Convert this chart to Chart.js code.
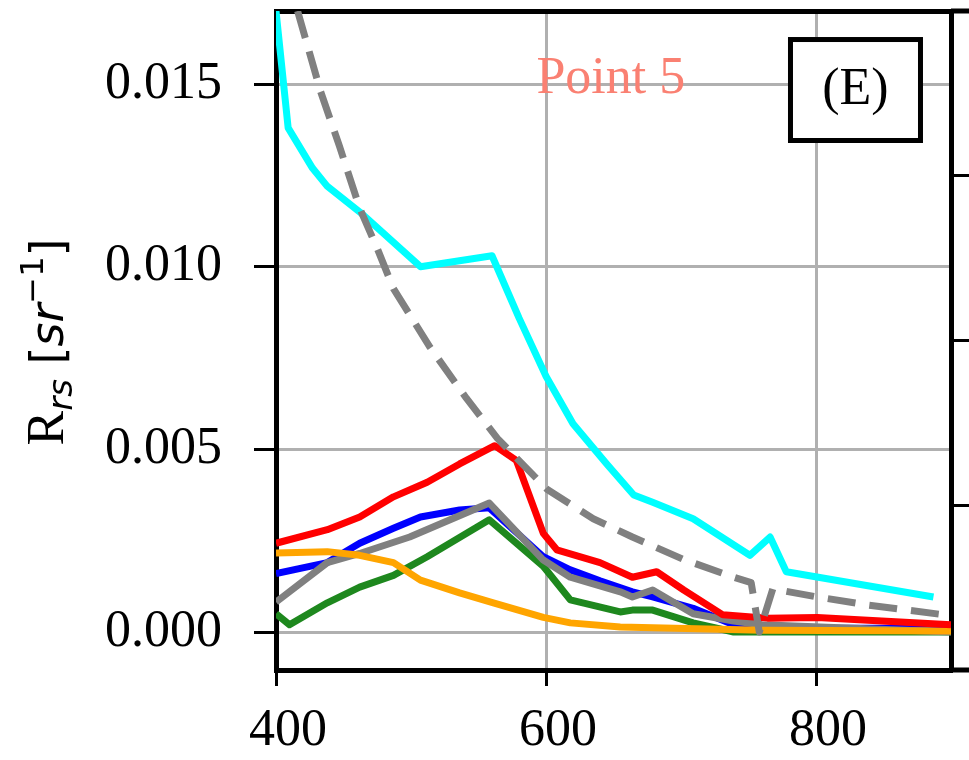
<!DOCTYPE html>
<html>
<head>
<meta charset="utf-8">
<script src="https://cdn.jsdelivr.net/npm/chart.js@4.4.1/dist/chart.umd.min.js"></script>
<style>
  html, body { margin: 0; padding: 0; background: #ffffff; }
  #wrap { width: 969px; height: 760px; }
</style>
</head>
<body>
<div id="wrap"><canvas id="rrsChart" width="969" height="760"></canvas></div>
<script>
// Rrs spectra at point 5 (wavelength in nm, Rrs in sr^-1)
const cyanWl  = [400, 409, 427, 438, 462, 507, 560, 580, 600, 620, 645, 665, 679, 709, 751, 766, 778, 887];
const cyanRrs = [0.0170, 0.0138, 0.0127, 0.0122, 0.0115, 0.0100, 0.0103, 0.0086, 0.0070, 0.0057, 0.0046, 0.00375, 0.00355, 0.0031, 0.0021, 0.0026, 0.00165, 0.00096];

const dashWl  = [416, 433, 447, 462, 475, 487, 514, 541, 564, 601, 635, 664, 701, 739, 752, 758, 768, 801, 838, 893];
const dashRrs = [0.0170, 0.0148, 0.0133, 0.0116, 0.0105, 0.0094, 0.0078, 0.0064, 0.0053, 0.0039, 0.0031, 0.0026, 0.0020, 0.0015, 0.00135, 0.0000, 0.00118, 0.00096, 0.00074, 0.00048];

const redWl  = [400, 438, 462, 487, 512, 536, 562, 578, 598, 608, 640, 664, 682, 702, 731, 764, 801, 900];
const redRrs = [0.00243, 0.0028, 0.00315, 0.0037, 0.0041, 0.0046, 0.0051, 0.0047, 0.0027, 0.00225, 0.0019, 0.0015, 0.00165, 0.00115, 0.00047, 0.00038, 0.0004, 0.0002];

const blueWl  = [400, 438, 462, 487, 507, 536, 558, 598, 618, 640, 664, 679, 709, 739, 760, 900];
const blueRrs = [0.0016, 0.0019, 0.00243, 0.00284, 0.00315, 0.00334, 0.0034, 0.00206, 0.0017, 0.0014, 0.0011, 0.00096, 0.00065, 0.0002, 0.0001, 0.0001];

const grayWl  = [400, 438, 462, 499, 558, 598, 618, 655, 664, 679, 709, 739, 760, 900];
const grayRrs = [0.00082, 0.0019, 0.00215, 0.0026, 0.00353, 0.00197, 0.0015, 0.0011, 0.00096, 0.00115, 0.0005, 0.0003, 0.0002, 0.0000];

const greenWl  = [400, 410, 438, 462, 487, 512, 558, 598, 618, 655, 664, 679, 709, 739, 900];
const greenRrs = [0.0005, 0.0002, 0.0008, 0.00123, 0.00155, 0.00206, 0.00307, 0.0018, 0.00088, 0.00055, 0.0006, 0.0006, 0.00025, 0.0, 0.0];

const orangeWl  = [400, 438, 462, 487, 507, 536, 561, 598, 618, 655, 760, 900];
const orangeRrs = [0.00216, 0.0022, 0.0021, 0.0019, 0.00142, 0.00107, 0.0008, 0.0004, 0.00025, 0.00014, 0.00005, 0.00003];

// axis ticks
const xTicks = [400, 600, 800];
const yTicks = [0.000, 0.005, 0.010, 0.015];

const serif = '"Liberation Serif", "Times New Roman", serif';
const mathFont = '"DejaVu Sans", sans-serif';

function toPoints(wl, vals) {
  return wl.map((w, i) => ({ x: w, y: vals[i] }));
}

function series(wl, vals, color, dashed) {
  return {
    data: toPoints(wl, vals),
    borderColor: color,
    borderWidth: 7,
    borderDash: dashed ? [28, 14] : [],
    borderJoinStyle: 'round',
    borderCapStyle: 'butt',
    pointRadius: 0,
    tension: 0,
    fill: false
  };
}

// fix the size of an axis box so the plot area lands where the figure has it
function fixBox(size) {
  return s => {
    if (s.isHorizontal()) s.height = size; else s.width = size;
    s.paddingTop = 0; s.paddingBottom = 0; s.paddingLeft = 0; s.paddingRight = 0;
  };
}

// y-axis title with subscript / superscript
const yTitlePlugin = {
  id: 'yTitle',
  afterDraw(chart) {
    const ctx = chart.ctx;
    const parts = [
      { t: 'R', font: '52px ' + serif, dy: 0 },
      { t: 'rs', font: 'italic 34px ' + mathFont, dy: 9 },
      { t: ' [', font: '46px ' + mathFont, dy: 0 },
      { t: 'sr', font: 'italic 46px ' + mathFont, dy: 0 },
      { t: '\u22121', font: '32px ' + mathFont, dy: -20 },
      { t: ']', font: '46px ' + mathFont, dy: 0 }
    ];
    ctx.save();
    let total = 0;
    parts.forEach(p => { ctx.font = p.font; p.w = ctx.measureText(p.t).width; total += p.w; });
    ctx.translate(63, 342);
    ctx.rotate(-Math.PI / 2);
    ctx.fillStyle = '#000';
    ctx.textBaseline = 'alphabetic';
    ctx.textAlign = 'left';
    let x = -total / 2;
    parts.forEach(p => {
      ctx.font = p.font;
      ctx.fillText(p.t, x, p.dy);
      x += p.w;
    });
    ctx.restore();
  }
};

// "Point 5" label, the (E) panel box and the spine stubs of the next panel
const annotPlugin = {
  id: 'annot',
  afterDraw(chart) {
    const ctx = chart.ctx;
    const a = chart.chartArea;
    const w = a.right - a.left, h = a.bottom - a.top;
    ctx.save();

    ctx.font = '52px ' + serif;
    ctx.fillStyle = '#fa8072';
    ctx.textAlign = 'center';
    ctx.textBaseline = 'alphabetic';
    ctx.fillText('Point 5', a.left + 0.496 * w, a.top + 0.124 * h);

    const bx0 = a.left + 0.7585 * w, bx1 = a.left + 0.9585 * w;
    const by0 = a.top + 0.0395 * h, by1 = a.top + 0.2003 * h;
    ctx.fillStyle = '#fff';
    ctx.fillRect(bx0, by0, bx1 - bx0, by1 - by0);
    ctx.lineWidth = 5;
    ctx.strokeStyle = '#000';
    ctx.strokeRect(bx0 + 2.5, by0 + 2.5, bx1 - bx0 - 5, by1 - by0 - 5);
    ctx.fillStyle = '#000';
    ctx.fillText('(E)', (bx0 + bx1) / 2, by0 + 0.102 * h);

    ctx.beginPath();
    ctx.moveTo(a.right, a.top);
    ctx.lineTo(chart.width, a.top);
    ctx.moveTo(a.right, a.bottom);
    ctx.lineTo(chart.width, a.bottom);
    ctx.stroke();
    ctx.restore();
  }
};

Chart.defaults.font.family = serif;
Chart.defaults.color = '#000';

const ctx = document.getElementById('rrsChart').getContext('2d');
new Chart(ctx, {
  type: 'line',
  data: {
    datasets: [
      series(dashWl, dashRrs, '#808080', true),
      series(cyanWl, cyanRrs, '#00ffff'),
      series(redWl, redRrs, '#ff0000'),
      series(orangeWl, orangeRrs, '#ffa500'),
      series(grayWl, grayRrs, '#808080'),
      series(blueWl, blueRrs, '#0000ff'),
      series(greenWl, greenRrs, '#1e881e')
    ]
  },
  options: {
    responsive: false,
    animation: false,
    layout: { padding: 0 },
    plugins: {
      legend: { display: false },
      tooltip: { enabled: false }
    },
    scales: {
      x: {
        type: 'linear',
        position: 'bottom',
        min: 400,
        max: 900,
        afterBuildTicks: s => { s.ticks = xTicks.map(v => ({ value: v })); },
        afterFit: fixBox(90),
        ticks: {
          font: { size: 52 },
          padding: 14,
          labelOffset: 12,
          maxRotation: 0,
          callback: v => String(v)
        },
        grid: { color: '#b0b0b0', lineWidth: 3, tickColor: '#000', tickWidth: 3, tickLength: 16 },
        border: { display: true, color: '#000', width: 5 }
      },
      xTop: {
        type: 'linear',
        position: 'top',
        min: 400,
        max: 900,
        afterFit: fixBox(11),
        ticks: { display: false },
        grid: { drawOnChartArea: false, drawTicks: false },
        border: { display: true, color: '#000', width: 5 }
      },
      y: {
        type: 'linear',
        position: 'left',
        min: -0.00104,
        max: 0.0170,
        afterBuildTicks: s => { s.ticks = yTicks.map(v => ({ value: v })); },
        afterFit: fixBox(276),
        ticks: {
          font: { size: 52 },
          padding: 32,
          callback: v => v.toFixed(3)
        },
        grid: { color: '#b0b0b0', lineWidth: 3, tickColor: '#000', tickWidth: 3, tickLength: 22 },
        border: { display: true, color: '#000', width: 5 }
      },
      yRight: {
        type: 'linear',
        position: 'right',
        min: 0,
        max: 4,
        afterBuildTicks: s => { s.ticks = [1, 2, 3].map(v => ({ value: v })); },
        afterFit: fixBox(18),
        ticks: { display: false },
        grid: { drawOnChartArea: false, tickColor: '#000', tickWidth: 3, tickLength: 20 },
        border: { display: true, color: '#000', width: 5 }
      }
    }
  },
  plugins: [yTitlePlugin, annotPlugin]
});
</script>
</body>
</html>
